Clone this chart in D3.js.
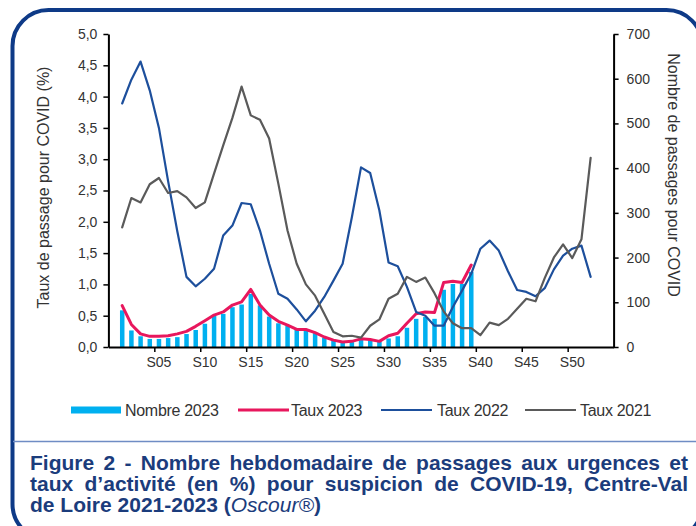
<!DOCTYPE html>
<html>
<head>
<meta charset="utf-8">
<script src="https://cdn.jsdelivr.net/npm/d3@7"></script>
<style>
  html, body { margin: 0; padding: 0; background: #fff; }
  svg { display: block; }
</style>
</head>
<body>
<svg id="chart" width="696" height="526"></svg>
<script>
// ---------------- DATA ----------------
const weeks = ["S01","S02","S03","S04","S05","S06","S07","S08","S09","S10",
  "S11","S12","S13","S14","S15","S16","S17","S18","S19","S20",
  "S21","S22","S23","S24","S25","S26","S27","S28","S29","S30",
  "S31","S32","S33","S34","S35","S36","S37","S38","S39","S40",
  "S41","S42","S43","S44","S45","S46","S47","S48","S49","S50",
  "S51","S52","S53"];
const xTickLabels = ["S05","S10","S15","S20","S25","S30","S35","S40","S45","S50"];

// Nombre 2023 (right axis, passages)
const nombre2023 = [82,37,24,18,18,20,22,29,38,52,
  70,74,89,95,119,93,68,53,48,39,
  37,31,21,15,11,11,16,15,12,19,
  24,43,63,67,63,128,141,141,168];
// Taux 2023 (%)
const taux2023 = [0.66,0.36,0.21,0.17,0.17,0.18,0.21,0.25,0.33,0.42,
  0.51,0.56,0.67,0.72,0.92,0.67,0.51,0.41,0.35,0.28,
  0.28,0.23,0.16,0.11,0.08,0.09,0.13,0.12,0.09,0.18,
  0.22,0.38,0.53,0.56,0.55,1.03,1.05,1.03,1.31];
// Taux 2022 (%)
const taux2022 = [3.89,4.27,4.56,4.10,3.50,2.65,1.85,1.12,0.97,1.09,
  1.25,1.78,1.94,2.30,2.28,1.86,1.33,0.85,0.77,0.60,
  0.41,0.58,0.80,1.06,1.33,2.07,2.87,2.78,2.18,1.35,
  1.29,0.96,0.56,0.50,0.34,0.34,0.64,0.90,1.17,1.57,
  1.70,1.54,1.21,0.91,0.88,0.81,0.94,1.24,1.46,1.57,
  1.62,1.12];
// Taux 2021 (%)
const taux2021 = [1.91,2.38,2.31,2.60,2.70,2.46,2.49,2.39,2.22,2.31,
  2.77,3.22,3.66,4.16,3.70,3.63,3.33,2.61,1.86,1.33,
  1.00,0.82,0.53,0.24,0.17,0.18,0.15,0.34,0.44,0.77,
  0.85,1.12,1.04,1.11,0.86,0.57,0.38,0.30,0.30,0.19,
  0.39,0.35,0.45,0.61,0.77,0.73,1.10,1.43,1.64,1.42,
  1.72,3.02];

const leftTicks = [0,0.5,1,1.5,2,2.5,3,3.5,4,4.5,5];
const rightTicks = [0,100,200,300,400,500,600,700];

const legendItems = [
  {label: "Nombre 2023", type: "bar", color: "#00b0f0"},
  {label: "Taux 2023", type: "line", color: "#e8175d", width: 3},
  {label: "Taux 2022", type: "line", color: "#1d4f9c", width: 2.2},
  {label: "Taux 2021", type: "line", color: "#5a5a5a", width: 2.2}
];

const captionLines = [
  "Figure 2 - Nombre hebdomadaire de passages aux urgences et",
  "taux d\u2019activit\u00e9 (en %) pour suspicion de COVID-19, Centre-Val"
];

// ---------------- LAYOUT ----------------
const svg = d3.select("#chart");
const L = 108.4, R = 613.6, T = 34, B = 347;
const font = "Liberation Sans, Arial, sans-serif";

// border frame
svg.append("rect")
  .attr("x", 12.5).attr("y", 10).attr("width", 690).attr("height", 530)
  .attr("rx", 36).attr("ry", 36)
  .attr("fill", "#fff").attr("stroke", "#0e3a87").attr("stroke-width", 4);

const domain = ["_pre", ...weeks, "_post"];
const x = d3.scaleBand().domain(domain).range([L, R]).padding(0);
const bw = x.bandwidth();
const xIdx = d3.scaleLinear().domain([0, domain.length]).range([L, R]);
const yL = d3.scaleLinear().domain([0, 5]).range([B, T]);
const yR = d3.scaleLinear().domain([0, 700]).range([B, T]);

const cx = w => x(w) + bw / 2;

// bars
svg.append("g").selectAll("rect")
  .data(nombre2023.map((v, i) => ({w: weeks[i], v})))
  .join("rect")
  .attr("x", d => x(d.w) + bw * 0.26)
  .attr("width", bw * 0.49)
  .attr("y", d => yR(d.v))
  .attr("height", d => yR(0) - yR(d.v))
  .attr("fill", "#00b0f0");

const line = d3.line().x(d => cx(d.w)).y(d => yL(d.v));
function drawLine(arr, color, width) {
  svg.append("path")
    .datum(arr.map((v, i) => ({w: weeks[i], v})))
    .attr("d", line)
    .attr("fill", "none")
    .attr("stroke", color)
    .attr("stroke-width", width)
    .attr("stroke-linejoin", "round")
    .attr("stroke-linecap", "round");
}
drawLine(taux2023, "#e8175d", 3);
drawLine(taux2022, "#1d4f9c", 2.2);
drawLine(taux2021, "#5a5a5a", 2.2);

// axes
const fmt = d3.format(".1f");
const gL = svg.append("g").attr("transform", `translate(${L},0)`)
  .call(d3.axisLeft(yL).tickValues(leftTicks).tickSize(5).tickSizeOuter(0)
    .tickPadding(6).tickFormat(d => fmt(d).replace(".", ",")));
const gR = svg.append("g").attr("transform", `translate(${R},0)`)
  .call(d3.axisRight(yR).tickValues(rightTicks).tickSize(5).tickSizeOuter(0).tickPadding(8));
const gBt = svg.append("g").attr("transform", `translate(0,${B})`)
  .call(d3.axisBottom(xIdx).tickValues(xTickLabels.map(l => domain.indexOf(l)))
    .tickSize(5).tickSizeOuter(0).tickFormat(""));
const gBl = svg.append("g").attr("transform", `translate(0,${B})`)
  .call(d3.axisBottom(x).tickValues(xTickLabels).tickSize(0).tickPadding(10));
gBl.select(".domain").remove();

[gL, gR, gBt, gBl].forEach(g => {
  g.selectAll(".domain").attr("stroke", "#000").attr("stroke-width", 2);
  g.selectAll(".tick line").attr("stroke", "#000").attr("stroke-width", 1.5);
  g.selectAll("text").attr("font-family", font).attr("font-size", 14).attr("fill", "#333");
});

// axis titles
svg.append("text")
  .attr("transform", `translate(43,${(T + B) / 2 - 3}) rotate(-90)`)
  .attr("text-anchor", "middle").attr("dominant-baseline", "central")
  .attr("font-family", font).attr("font-size", 16).attr("fill", "#333")
  .text("Taux de passage pour COVID (%)");
svg.append("text")
  .attr("transform", `translate(673,175) rotate(90)`)
  .attr("text-anchor", "middle").attr("dominant-baseline", "central")
  .attr("font-family", font).attr("font-size", 16).attr("fill", "#333")
  .text("Nombre de passages pour COVID");

// legend
const legendPos = [
  {sx: 71, sw: 50, tx: 125},
  {sx: 238, sw: 51, tx: 291},
  {sx: 381, sw: 51, tx: 437},
  {sx: 525, sw: 51, tx: 580}
];
const lg = svg.append("g");
legendItems.forEach((it, i) => {
  const p = legendPos[i];
  if (it.type === "bar") {
    lg.append("rect").attr("x", p.sx).attr("y", 406.5).attr("width", p.sw).attr("height", 7)
      .attr("fill", it.color);
  } else {
    lg.append("line").attr("x1", p.sx).attr("x2", p.sx + p.sw).attr("y1", 410).attr("y2", 410)
      .attr("stroke", it.color).attr("stroke-width", it.width);
  }
  lg.append("text").attr("x", p.tx).attr("y", 415.5)
    .attr("font-family", font).attr("font-size", 16).attr("fill", "#333")
    .attr("letter-spacing", -0.3)
    .text(it.label);
});

// separator
svg.append("line").attr("x1", 13).attr("x2", 696).attr("y1", 441.5).attr("y2", 441.5)
  .attr("stroke", "#6f8cc4").attr("stroke-width", 1.3);

// caption
const capColor = "#1b3c7c";
const capW = 658, capX = 30;
captionLines.forEach((txt, i) => {
  const t = svg.append("text").attr("x", capX).attr("y", 470 + i * 21)
    .attr("font-family", font).attr("font-size", 21).attr("font-weight", "bold")
    .attr("fill", capColor).text(txt);
  const w = t.node().getComputedTextLength();
  const spaces = (txt.match(/ /g) || []).length;
  if (spaces > 0) t.attr("word-spacing", (capW - w) / spaces);
});
const t3 = svg.append("text").attr("x", capX).attr("y", 512)
  .attr("font-family", font).attr("font-size", 21).attr("font-weight", "bold").attr("fill", capColor);
t3.append("tspan").text("de Loire 2021-2023 (");
t3.append("tspan").attr("font-style", "italic").attr("font-weight", "normal").text("Oscour\u00ae");
t3.append("tspan").text(")");
</script>
</body>
</html>
